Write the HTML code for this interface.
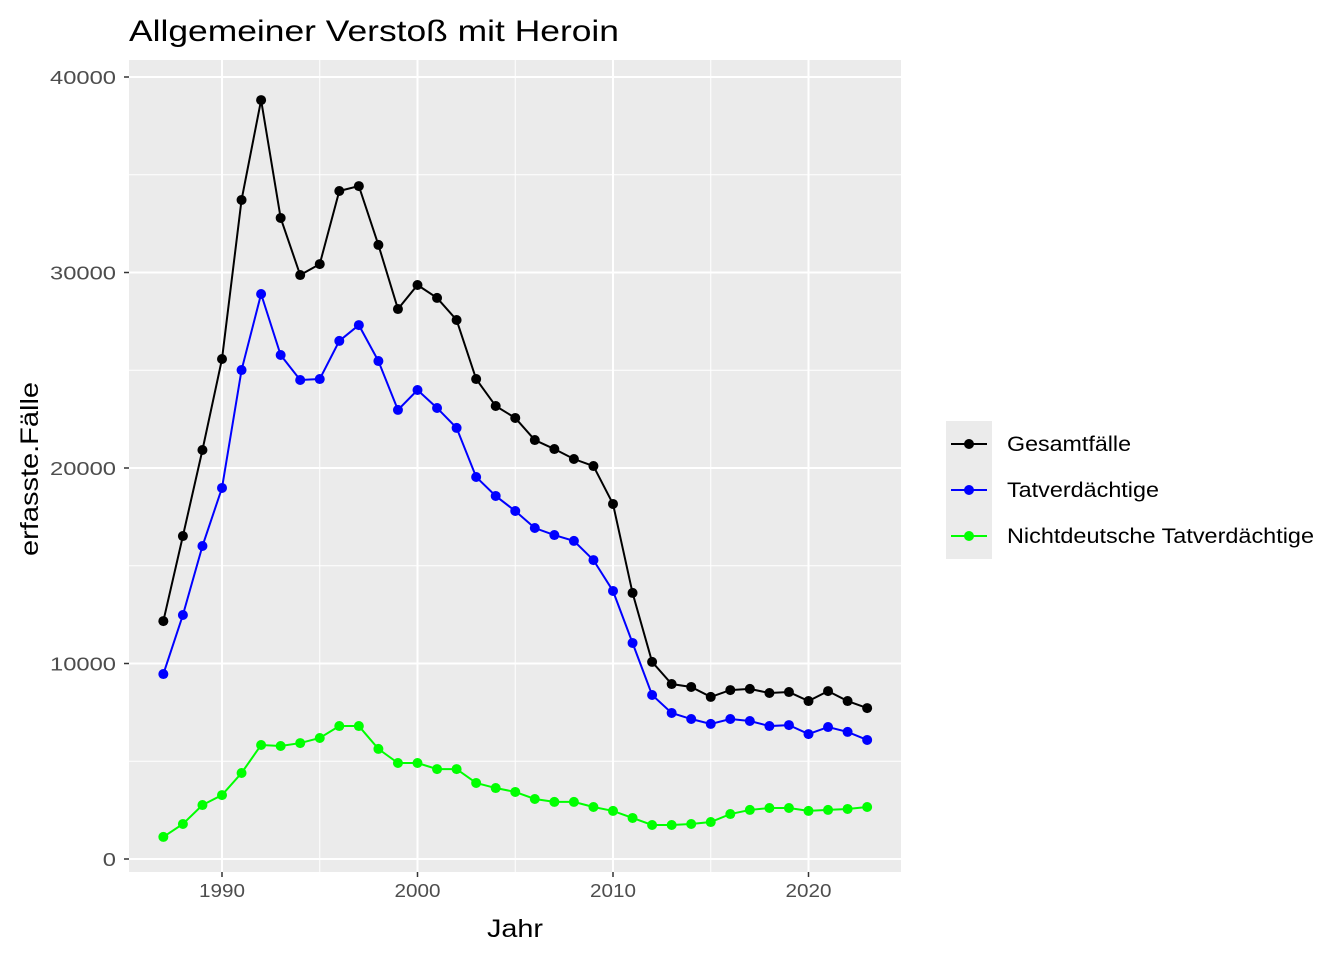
<!DOCTYPE html>
<html><head><meta charset="utf-8"><style>body{margin:0;background:#fff}svg{font-family:"Liberation Sans",sans-serif}</style></head>
<body>
<svg id="chart" width="1344" height="960" xmlns="http://www.w3.org/2000/svg">
<text x="129" y="41" font-size="30" textLength="490" lengthAdjust="spacingAndGlyphs" fill="#000">Allgemeiner Verstoß mit Heroin</text>
<rect x="129" y="60" width="772" height="812" fill="#ebebeb"/>
<g id="grid"></g><g id="axes"></g><g id="series"></g>
<text x="515" y="937" font-size="25" textLength="56" lengthAdjust="spacingAndGlyphs" text-anchor="middle">Jahr</text>
<text transform="translate(38,469) rotate(-90)" font-size="25" textLength="174" lengthAdjust="spacingAndGlyphs" text-anchor="middle">erfasste.Fälle</text>
<g id="legend"></g>
</svg>
<script>
const years=[];for(let y=1987;y<=2023;y++)years.push(y);
const gesamt=[12170,16520,20920,25575,33710,38820,32790,29870,30430,34170,34420,31410,28130,29360,28700,27570,24550,23170,22560,21430,20970,20460,20100,18160,13610,10080,8950,8800,8290,8640,8700,8490,8540,8080,8590,8080,7720];
const tatverd=[9460,12480,16010,18980,25010,28900,25780,24500,24550,26500,27310,25470,22970,23990,23070,22050,19540,18570,17800,16930,16570,16270,15290,13710,11050,8390,7470,7160,6910,7160,7060,6800,6850,6390,6750,6500,6090];
const nicht=[1130,1790,2760,3270,4400,5830,5780,5930,6190,6800,6800,5630,4910,4910,4600,4600,3890,3630,3430,3070,2920,2920,2660,2460,2100,1740,1740,1790,1890,2300,2510,2610,2610,2460,2510,2560,2660];
const yTicks=[0,10000,20000,30000,40000];
const xTicks=[1990,2000,2010,2020];
const seriesNames=["Gesamtfälle","Tatverdächtige","Nichtdeutsche Tatverdächtige"];
const seriesColors=["#000000","#0000ff","#00ff00"];
const legendWidths=[124,152,307];
const NS="http://www.w3.org/2000/svg";
const X=v=>222+(v-1990)*19.55;
const Y=v=>859-v*0.01955;
function mk(t,a,p){const e=document.createElementNS(NS,t);for(const k in a)e.setAttribute(k,a[k]);p.appendChild(e);return e;}
const grid=document.getElementById('grid'),axes=document.getElementById('axes');
for(let i=0;i<yTicks.length-1;i++){const m=(yTicks[i]+yTicks[i+1])/2;
 const l=mk('line',{x1:129,x2:901,y1:Y(m),y2:Y(m),stroke:'#fff','stroke-width':1},grid);
 
 }
for(let i=0;i<xTicks.length+1;i++){const m=xTicks[0]-5+i*10;
 const l=mk('line',{x1:X(m),x2:X(m),y1:60,y2:872,stroke:'#fff','stroke-width':1},grid);
 
 }
yTicks.forEach(v=>{const l=mk('line',{x1:129,x2:901,y1:Y(v),y2:Y(v),stroke:'#fff','stroke-width':2},grid);
 
 
 const t=mk('line',{x1:124,x2:129,y1:Y(v),y2:Y(v),stroke:'#333','stroke-width':1.5},axes);
 
 
 const s=String(v);
 const tx=mk('text',{x:116,y:Y(v)+7,'font-size':18,fill:'#4d4d4d','text-anchor':'end',textLength:13.2*s.length,lengthAdjust:'spacingAndGlyphs'},axes);tx.textContent=s;
 
 });
xTicks.forEach(v=>{const l=mk('line',{x1:X(v),x2:X(v),y1:60,y2:872,stroke:'#fff','stroke-width':2},grid);
 
 
 const t=mk('line',{x1:X(v),x2:X(v),y1:872,y2:877,stroke:'#333','stroke-width':1.5},axes);
 
 
 const tx=mk('text',{x:X(v),y:897,'font-size':18,fill:'#4d4d4d','text-anchor':'middle',textLength:46,lengthAdjust:'spacingAndGlyphs'},axes);tx.textContent=v;
 
 });
const sg=document.getElementById('series');
[gesamt,tatverd,nicht].forEach((d,si)=>{const g=mk('g',{},sg);
 
 
 const pl=mk('polyline',{points:d.map((v,i)=>X(years[i])+','+Y(v)).join(' '),fill:'none',stroke:seriesColors[si],'stroke-width':2},g);
 
 
 d.forEach((v,i)=>{const c=mk('circle',{cx:X(years[i]),cy:Y(v),r:5,fill:seriesColors[si]},g);
  
  });});
const lg=document.getElementById('legend');
mk('rect',{x:946,y:421,width:46,height:138,fill:'#ebebeb'},lg);
seriesNames.forEach((n,i)=>{const y=444+i*46;
 const e=mk('g',{},lg);
 
 
 mk('line',{x1:951,x2:987,y1:y,y2:y,stroke:seriesColors[i],'stroke-width':2},e);
 mk('circle',{cx:969,cy:y,r:5,fill:seriesColors[i]},e);
 const t=mk('text',{x:1007,y:y+7,'font-size':21,fill:'#000',textLength:legendWidths[i],lengthAdjust:'spacingAndGlyphs'},e);t.textContent=n;});
</script>
</body></html>
